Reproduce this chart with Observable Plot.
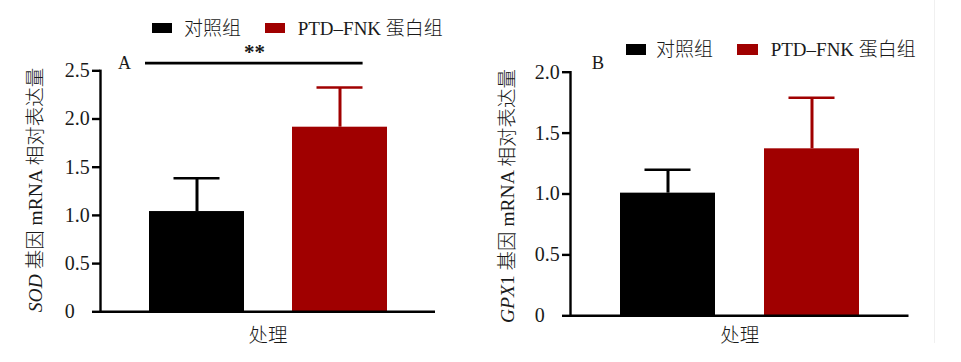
<!DOCTYPE html>
<html><head><meta charset="utf-8">
<script src="https://cdn.jsdelivr.net/npm/d3@7"></script>
<script src="https://cdn.jsdelivr.net/npm/@observablehq/plot@0.6"></script>
<style>
body{margin:0;background:#fff;}
#wrap{position:relative;width:961px;height:362px;overflow:hidden;background:#fff;font-family:'Liberation Serif','Noto Sans CJK SC',serif;color:#1a1a1a;}
.panel{position:absolute;top:0;}
.item{position:absolute;white-space:nowrap;font-size:19px;line-height:19px;font-weight:300;}
.sw{position:absolute;}
.ytitle{position:absolute;font-size:19.5px;line-height:20px;white-space:nowrap;font-weight:300;transform:translate(-50%,-50%) rotate(-90deg);}
.edge{position:absolute;left:934px;top:0;width:1px;height:343px;background:#f0f0f0;}
</style></head>
<body><div id="wrap"></div>
<script>
// ---- data ----
const groups = ["对照组", "PTD–FNK 蛋白组"];
const colors = ["#000000", "#a00000"];
const sodMean = [1.04, 1.915];
const sodSD = [0.346, 0.412];
const gpxMean = [1.007, 1.371];
const gpxSD = [0.192, 0.419];
const sodTicks = [0, 0.5, 1.0, 1.5, 2.0, 2.5];
const gpxTicks = [0, 0.5, 1.0, 1.5, 2.0];
const xLabel = "处理";
const sigLevel = 2.58;
const sigText = "**";
const panelLetters = ["A", "B"];

const FONT = "'Liberation Serif','Noto Sans CJK SC',serif";
const wrap = document.getElementById("wrap");

function makePanel({means, sds, ticks, yMax, width, marginLeft, marginRight, marginTop, marginBottom, labelDy, extras}) {
  const data = groups.map((g, i) => ({group: g, mean: means[i], top: means[i] + sds[i]}));
  return Plot.plot({
    width, height: 362, marginLeft, marginRight, marginTop, marginBottom,
    style: {fontFamily: FONT, fontSize: "19px", fontWeight: 300, color: "#1a1a1a", background: "transparent", overflow: "visible"},
    x: {domain: groups, padding: 0.337, axis: null},
    y: {domain: [0, yMax]},
    color: {domain: groups, range: colors},
    marks: [
      Plot.barY(data, {x: "group", y: "mean", fill: "group"}),
      Plot.ruleX(data, {x: "group", y1: "mean", y2: "top", stroke: "group", strokeWidth: 3}),
      Plot.tickY(data, {x: "group", y: "top", stroke: "group", strokeWidth: 2.5, insetLeft: 24.5, insetRight: 24.5}),
      Plot.ruleY([0], {stroke: "#000", strokeWidth: 2.6}),
      Plot.axisY({ticks, tickSize: 8, tickPadding: 27.7, textAnchor: "start", label: null,
        tickFormat: d => d === 0 ? "0" : d.toFixed(1), stroke: "#000", strokeWidth: 2.4, fontSize: 20}),
      Plot.frame({anchor: "left", stroke: "#000", strokeWidth: 2.4}),
      Plot.text([xLabel], {frameAnchor: "bottom", dy: labelDy, fontSize: 19.5, lineAnchor: "middle"}),
      ...extras
    ]
  });
}

const left = makePanel({
  means: sodMean, sds: sodSD, ticks: sodTicks, yMax: 2.5,
  width: 480, marginLeft: 100, marginRight: 45, marginTop: 70.3, marginBottom: 50.7, labelDy: 24,
  extras: [
    Plot.ruleY([sigLevel], {x1: () => groups[0], x2: () => groups[1], stroke: "#000", strokeWidth: 2.6, insetLeft: -4, insetRight: 24.4}),
    Plot.text([sigText], {x: () => groups[0], y: () => sigLevel, dx: 57.5, dy: -10.6, fontWeight: "bold", fontSize: 21}),
    Plot.text([panelLetters[0]], {frameAnchor: "top-left", dx: 24, dy: -7.3, textAnchor: "middle", lineAnchor: "middle", fontSize: 18})
  ]
});
left.classList.add("panel");
left.style.left = "0px";
wrap.appendChild(left);

const right = makePanel({
  means: gpxMean, sds: gpxSD, ticks: gpxTicks, yMax: 2.0,
  width: 481, marginLeft: 90, marginRight: 52.5, marginTop: 71.7, marginBottom: 46.7, labelDy: 20,
  extras: [
    Plot.text([panelLetters[1]], {frameAnchor: "top-left", dx: 27.3, dy: -9.2, textAnchor: "middle", lineAnchor: "middle", fontSize: 18.5})
  ]
});
right.classList.add("panel");
right.style.left = "480px";
wrap.appendChild(right);

// legends
function legend(cfg) {
  cfg.forEach(({sx, sy, sw, sh, tx, ty}, i) => {
    const s = document.createElement("div");
    s.className = "sw";
    Object.assign(s.style, {left: sx + "px", top: sy + "px", width: sw + "px", height: sh + "px", background: colors[i]});
    wrap.appendChild(s);
    const t = document.createElement("div");
    t.className = "item";
    t.textContent = groups[i];
    Object.assign(t.style, {left: tx + "px", top: (ty - 9.5) + "px"});
    wrap.appendChild(t);
  });
}
legend([
  {sx: 151.7, sy: 22.7, sw: 20.6, sh: 10.6, tx: 184, ty: 28.8},
  {sx: 265, sy: 22.7, sw: 20.3, sh: 10.6, tx: 297.7, ty: 28.8}
]);
legend([
  {sx: 626, sy: 44.3, sw: 19.7, sh: 10.7, tx: 656, ty: 49.5},
  {sx: 736.7, sy: 44.3, sw: 21, sh: 10.7, tx: 770.7, ty: 49.5}
]);

// y titles (mixed italic)
function ytitle(html, cx, cy) {
  const d = document.createElement("div");
  d.className = "ytitle";
  d.innerHTML = html;
  Object.assign(d.style, {left: cx + "px", top: cy + "px"});
  wrap.appendChild(d);
}
ytitle("<i>SOD</i> 基因 mRNA 相对表达量", 36, 190);
ytitle("<i>GPX</i>1 基因 mRNA 相对表达量", 508, 196);

const edge = document.createElement("div");
edge.className = "edge";
wrap.appendChild(edge);
</script>
</body></html>
